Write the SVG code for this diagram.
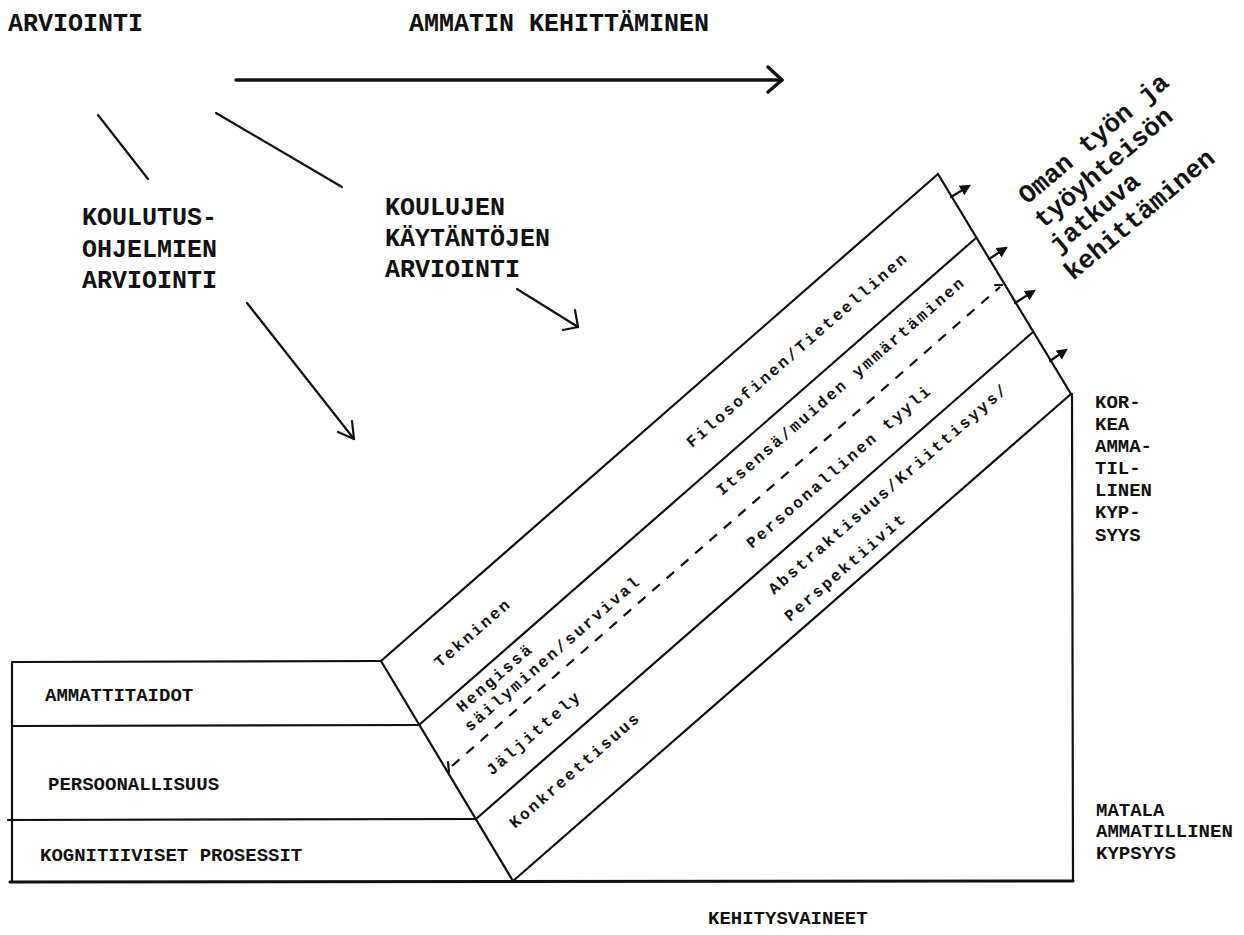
<svg xmlns="http://www.w3.org/2000/svg" width="1244" height="935" viewBox="0 0 1244 935">
<defs>
<style>
.ln{stroke:#111;stroke-width:2.2;fill:none;stroke-linecap:round;stroke-linejoin:round}
.thick{stroke:#111;stroke-width:3.5;fill:none;stroke-linecap:round;stroke-linejoin:round}
.big{font-family:"Liberation Mono","DejaVu Sans Mono",monospace;font-weight:bold;font-size:25px;fill:#111}
.sm{font-family:"Liberation Mono","DejaVu Sans Mono",monospace;font-weight:bold;font-size:19px;fill:#111}
.band{font-family:"Liberation Mono","DejaVu Sans Mono",monospace;font-weight:bold;font-size:16px;letter-spacing:2.4px;fill:#111}
.oman{font-family:"Liberation Mono","DejaVu Sans Mono",monospace;font-weight:bold;font-size:26px;fill:#111}
</style>
<marker id="tri" viewBox="0 0 10 10" refX="8" refY="5" markerWidth="5" markerHeight="5" orient="auto" markerUnits="strokeWidth">
<path d="M0,0 L10,5 L0,10 z" fill="#111"/>
</marker>
</defs>
<rect width="1244" height="935" fill="#fff"/>

<g id="title-arviointi"><text class="big" x="8" y="31">ARVIOINTI</text></g>
<g id="title-ammatin"><text class="big" x="409" y="31">AMMATIN KEHITTÄMINEN</text></g>

<g id="koulutusohjelmien">
<text class="big" x="82" y="225">KOULUTUS-</text>
<text class="big" x="82" y="257">OHJELMIEN</text>
<text class="big" x="82" y="288">ARVIOINTI</text>
</g>
<g id="koulujen">
<text class="big" x="385" y="215">KOULUJEN</text>
<text class="big" x="385" y="246">KÄYTÄNTÖJEN</text>
<text class="big" x="385" y="277">ARVIOINTI</text>
</g>

<g id="connectors">
<line class="thick" x1="236" y1="80" x2="782" y2="80"/>
<polyline class="thick" points="768,67 782,80 768,92"/>
<line class="ln" x1="98" y1="115" x2="148" y2="179"/>
<line class="ln" x1="216" y1="113" x2="342" y2="187"/>
<line class="ln" x1="247" y1="303" x2="354" y2="439"/>
<polyline class="ln" points="338,432 354,439 352,421"/>
<line class="ln" x1="517" y1="289" x2="578" y2="327"/>
<polyline class="ln" points="563,330 578,327 575,310"/>
<!-- small outward arrows -->
<line class="ln" x1="951" y1="197" x2="969" y2="186" marker-end="url(#tri)"/>
<line class="ln" x1="989" y1="259" x2="1006" y2="248" marker-end="url(#tri)"/>
<line class="ln" x1="1015" y1="303" x2="1034" y2="291" marker-end="url(#tri)"/>
<line class="ln" x1="1050" y1="361" x2="1066" y2="350" marker-end="url(#tri)"/>
</g>

<g id="structure">
<!-- left stacked boxes -->
<line class="ln" x1="12" y1="663" x2="12" y2="882"/>
<line class="ln" x1="12" y1="662" x2="381" y2="661"/>
<line class="ln" x1="12" y1="726" x2="419" y2="725"/>
<line class="ln" x1="8" y1="820" x2="476" y2="819"/>
<line class="thick" x1="10" y1="882" x2="1073" y2="881" style="stroke-width:3"/>
<!-- slanted parallelogram -->
<line class="ln" x1="381" y1="661" x2="513" y2="881"/>
<line class="ln" x1="381" y1="661" x2="938" y2="174"/>
<line class="ln" x1="938" y1="174" x2="1071" y2="394"/>
<line class="ln" x1="419" y1="725" x2="976" y2="238"/>
<line class="ln" x1="476" y1="819" x2="1033" y2="332"/>
<line class="ln" x1="513" y1="881" x2="1071" y2="394"/>
<line class="ln" x1="1072" y1="394" x2="1073" y2="881"/>
<!-- dashed line -->
<line class="ln" x1="452" y1="766" x2="1000" y2="287" style="stroke-dasharray:10 9;stroke-linecap:butt"/>
<line class="ln" x1="448" y1="762" x2="449" y2="772"/>
<line class="ln" x1="995" y1="285" x2="1002" y2="285"/>
</g>

<g id="box-labels">
<text class="sm" x="45" y="701">AMMATTITAIDOT</text>
<text class="sm" x="48" y="790">PERSOONALLISUUS</text>
<text class="sm" x="40" y="861">KOGNITIIVISET PROSESSIT</text>
</g>

<g id="band-labels">
<text class="band" transform="translate(440,668) rotate(-41)">Tekninen</text>
<text class="band" transform="translate(692,448) rotate(-41)">Filosofinen/Tieteellinen</text>
<text class="band" transform="translate(462,713) rotate(-41)">Hengissä</text>
<text class="band" transform="translate(470,732) rotate(-41)">säilyminen/survival</text>
<text class="band" transform="translate(722,496) rotate(-41)">Itsensä/muiden ymmärtäminen</text>
<text class="band" transform="translate(492,776) rotate(-41)">Jäljittely</text>
<text class="band" transform="translate(752,549) rotate(-41)">Persoonallinen tyyli</text>
<text class="band" transform="translate(515,829) rotate(-41)">Konkreettisuus</text>
<text class="band" transform="translate(774,595) rotate(-41)">Abstraktisuus/Kriittisyys/</text>
<text class="band" transform="translate(790,622) rotate(-41)">Perspektiivit</text>
</g>

<g id="oman-tyon">
<text class="oman" transform="translate(1027,205) rotate(-40)">Oman työn ja</text>
<text class="oman" transform="translate(1043,229) rotate(-40)">työyhteisön</text>
<text class="oman" transform="translate(1058,254) rotate(-40)">jatkuva</text>
<text class="oman" transform="translate(1073,281) rotate(-40)">kehittäminen</text>
</g>

<g id="korkea">
<text class="sm" x="1095" y="408">KOR-</text>
<text class="sm" x="1095" y="430">KEA</text>
<text class="sm" x="1095" y="452">AMMA-</text>
<text class="sm" x="1095" y="474">TIL-</text>
<text class="sm" x="1095" y="496">LINEN</text>
<text class="sm" x="1095" y="518">KYP-</text>
<text class="sm" x="1095" y="541">SYYS</text>
</g>
<g id="matala">
<text class="sm" x="1096" y="816">MATALA</text>
<text class="sm" x="1096" y="837">AMMATILLINEN</text>
<text class="sm" x="1096" y="859">KYPSYYS</text>
</g>
<g id="kehitysvaiheet"><text class="sm" x="708" y="924">KEHITYSVAINEET</text></g>
</svg>
